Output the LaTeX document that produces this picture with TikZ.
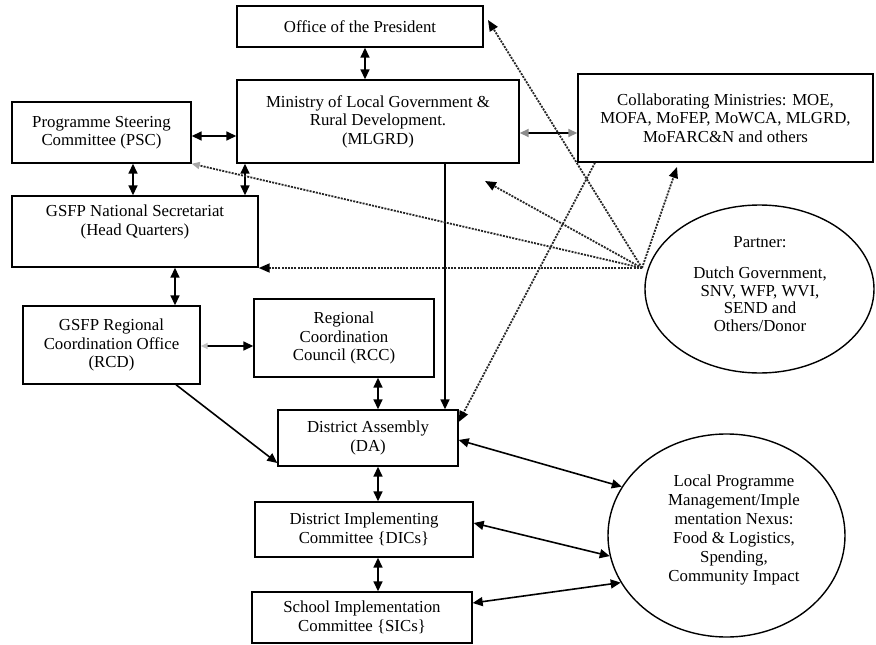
\documentclass[tikz,border=0pt]{standalone}
\usepackage{fontspec}
\setmainfont{Liberation Serif}
\usetikzlibrary{arrows.meta,shapes.geometric}
\begin{document}
\begin{tikzpicture}[x=1pt,y=-1pt,
  box/.style={draw, line width=1.4pt, align=center, inner sep=2pt,
    font=\fontsize{16.8}{18.5}\selectfont},
  oval/.style={draw, ellipse, line width=1.4pt, inner sep=0pt},
  txt/.style={align=center, inner sep=0pt},
  tip/.tip={Triangle[length=10pt,width=9pt]},
  dbl/.style={line width=1.6pt, tip-tip},
  one/.style={line width=1.6pt, -tip},
  dot/.style={draw=black!85, line width=1.8pt, dash pattern=on 2pt off 1.2pt,
    -{Triangle[length=11pt,width=9pt,color=black]}}
]
\useasboundingbox (0,0) rectangle (876,645);

% boxes
\node[box, minimum width=246pt, minimum height=41pt] (pres) at (360,26.5) {Office of the President};
\node[box, minimum width=282pt, minimum height=83pt] (mlgrd) at (378,121.5)
  {Ministry of Local Government \&\\ Rural Development.\\ (MLGRD)};
\node[box, minimum width=179pt, minimum height=61pt] (psc) at (101.5,132.5)
  {Programme Steering\\ Committee (PSC)};
\node[box, minimum width=246pt, minimum height=71pt] (nat) at (135,231.5)
  {GSFP National Secretariat\\ (Head Quarters)\\[4pt]};
\node[box, minimum width=295pt, minimum height=88pt] (collab) at (725.5,118)
  {Collaborating Ministries: MOE,\\ MOFA, MoFEP, MoWCA, MLGRD,\\ MoFARC\&N and others};
\node[box, minimum width=177pt, minimum height=78pt] (rcd) at (111.5,345)
  {GSFP Regional\\ Coordination Office\\ (RCD)};
\node[box, minimum width=180pt, minimum height=78pt] (rcc) at (344,338)
  {Regional\\ Coordination\\ Council (RCC)};
\node[box, minimum width=180pt, minimum height=56pt] (da) at (368,438)
  {District Assembly\\ (DA)};
\node[box, minimum width=218pt, minimum height=55pt] (dic) at (364,529.5)
  {District Implementing\\ Committee \{DICs\}};
\node[box, minimum width=220pt, minimum height=51pt] (sic) at (362,617.5)
  {School Implementation\\ Committee \{SICs\}};

% ellipses
\node[oval, minimum width=229pt, minimum height=168pt] (partner) at (759.5,289) {};
\node[txt, font=\fontsize{16.8}{17.5}\selectfont] (partnertext) at (760,284)
  {Partner:\\[14pt] Dutch Government,\\ SNV, WFP, WVI,\\ SEND and\\ Others/Donor};
\node[oval, minimum width=237pt, minimum height=203pt] (local) at (726.5,535.5) {};
\node[txt, font=\fontsize{16.8}{19}\selectfont] (localtext) at (734,530)
  {Local Programme\\ Management/Imple\\ mentation Nexus:\\ Food \& Logistics,\\ Spending,\\ Community Impact};

% solid connectors
\draw[dbl] (pres.south -| 365,0) -- (mlgrd.north -| 365,0);
\draw[dbl] (psc.east |- 0,136) -- (mlgrd.west |- 0,136);
\draw[dbl] (psc.south -| 133,0) -- (nat.north -| 133,0);
\draw[dbl] (mlgrd.south -| 245,0) -- (nat.north -| 245,0);
\draw[dbl] (nat.south -| 175,0) -- (rcd.north -| 175,0);
\draw[line width=1.6pt, {Triangle[length=7pt,width=6pt,color=black!25]}-tip] (rcd.east |- 0,346) -- (rcc.west |- 0,346);
\draw[one] (rcd.south -| 176,0) -- (da.west |- 0,463);
\draw[dbl] (rcc.south -| 378,0) -- (da.north -| 378,0);
\draw[dbl] (da.south -| 378,0) -- (dic.north -| 378,0);
\draw[dbl] (dic.south -| 378,0) -- (sic.north -| 378,0);
\draw[one] (mlgrd.south -| 445,0) -- (da.north -| 445,0);
\draw[line width=1.8pt, {Triangle[length=9pt,width=8pt,color=black!45]}-{Triangle[length=9pt,width=8pt,color=black!45]}]
  (mlgrd.east |- 0,133) -- (collab.west |- 0,133);
\draw[dbl] (da.east |- 0,440) -- (local.155);
\draw[dbl] (dic.east |- 0,523) -- (local.190);
\draw[dbl] (sic.east |- 0,603) -- (local.204);

% dotted connectors from the partner
\coordinate (hub) at (642,268);
\coordinate (tipP) at (488,20);
\coordinate (tipM) at (485,181);
\coordinate (tipC) at (677,167);
\draw[dot] (hub) -- (tipP);
\draw[dot] (hub) -- (tipC);
\draw[dot] (hub) -- (tipM);
\draw[draw=black!85, line width=1.8pt, dash pattern=on 2pt off 1.2pt,
  -{Triangle[length=8pt,width=7pt,color=black!35]}] (hub) -- (psc.south east);
\draw[dot] (hub) -- (nat.east |- hub);
\draw[dot] (collab.south -| 595,0) -- (da.east |- 0,422);
\end{tikzpicture}
\end{document}
